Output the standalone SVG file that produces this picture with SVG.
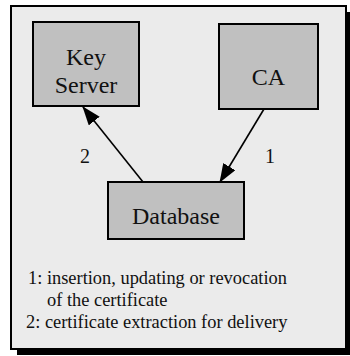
<svg xmlns="http://www.w3.org/2000/svg" width="350" height="356" viewBox="0 0 350 356">
<defs>
<style>
.node{fill:#c0c0c0;stroke:#000;stroke-width:2}
text{font-family:'Liberation Serif','Times New Roman',Times,'DejaVu Serif',serif;fill:#111}
.lbl{font-size:24px;text-anchor:middle}
.num{font-size:20px;text-anchor:middle}
.leg{font-size:18.4px}
.edge{stroke:#000;stroke-width:1.6;fill:none}
</style>
<marker id="arr" markerUnits="userSpaceOnUse" markerWidth="20" markerHeight="16" refX="18" refY="7" orient="auto">
<path d="M0,0 L19,7 L0,14 z" fill="#000"/>
</marker>
</defs>
<rect x="17" y="12" width="335" height="343" fill="#000"/>
<rect x="11" y="6" width="335" height="343" fill="#ebebeb" stroke="#000" stroke-width="2"/>
<g id="keyserver">
<rect class="node" x="33" y="22" width="106" height="84"/>
<text class="lbl" x="86" y="65" font-family="Liberation Serif, serif">Key</text>
<text class="lbl" x="86" y="93" font-family="Liberation Serif, serif">Server</text>
</g>
<g id="ca">
<rect class="node" x="219" y="24" width="99" height="85"/>
<text class="lbl" x="268.5" y="85" font-family="Liberation Serif, serif">CA</text>
</g>
<g id="database">
<rect class="node" x="108" y="182" width="136" height="57"/>
<text class="lbl" x="176" y="224" font-family="Liberation Serif, serif">Database</text>
</g>
<g id="connectors">
<line class="edge" x1="143" y1="182" x2="83" y2="107" marker-end="url(#arr)"/>
<line class="edge" x1="264" y1="109" x2="220" y2="182" marker-end="url(#arr)"/>
<text class="num" x="85" y="163" font-family="Liberation Serif, serif">2</text>
<text class="num" x="270" y="163" font-family="Liberation Serif, serif">1</text>
</g>
<g id="legend">
<text class="leg" x="28" y="284" font-family="Liberation Serif, serif">1: insertion, updating or revocation</text>
<text class="leg" x="47" y="306" font-family="Liberation Serif, serif">of the certificate</text>
<text class="leg" x="26" y="328" font-family="Liberation Serif, serif">2: certificate extraction for delivery</text>
</g>
</svg>
